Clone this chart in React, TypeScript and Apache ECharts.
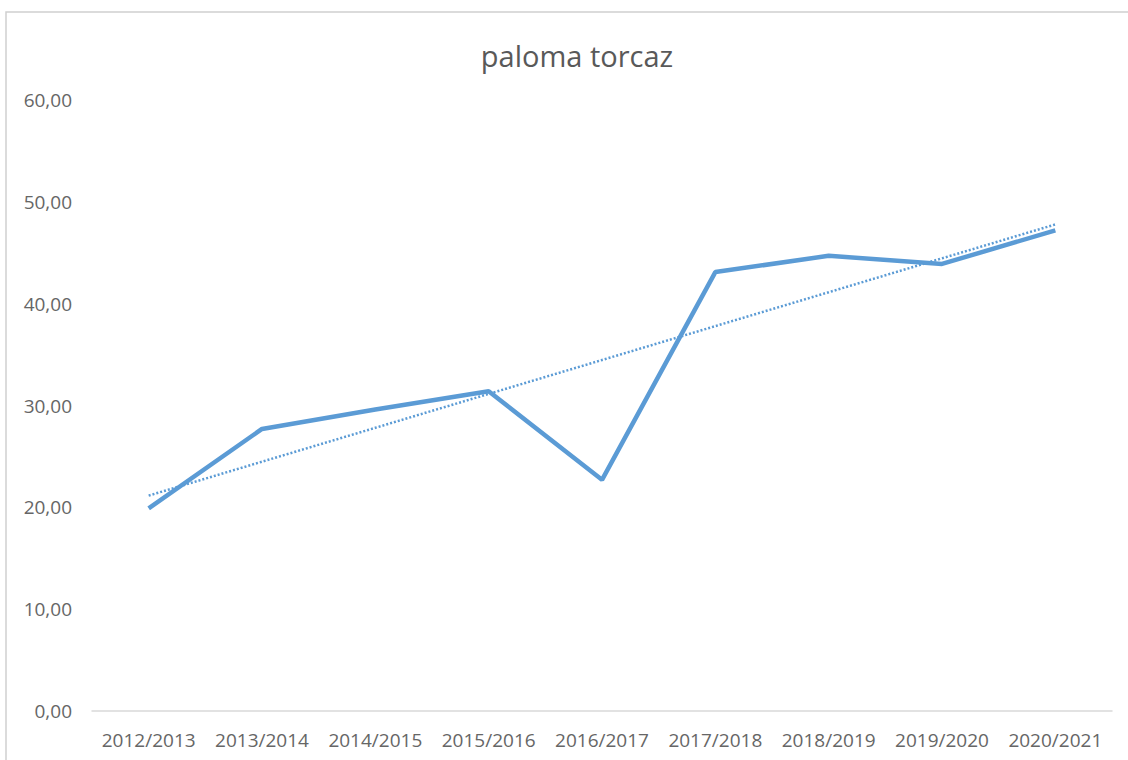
import React, { useEffect, useRef } from "react";
import * as echarts from "echarts";

const categories = [
  "2012/2013", "2013/2014", "2014/2015", "2015/2016", "2016/2017",
  "2017/2018", "2018/2019", "2019/2020", "2020/2021",
];
const values = [19.9, 27.7, 29.6, 31.4, 22.7, 43.1, 44.7, 43.9, 47.2];
const yTicks = { min: 0, max: 60, interval: 10 };
const title = "paloma torcaz";

function linearTrend(ys: number[]): number[] {
  const n = ys.length;
  const xs = ys.map((_, i) => i + 1);
  const mx = xs.reduce((a, b) => a + b, 0) / n;
  const my = ys.reduce((a, b) => a + b, 0) / n;
  let sxy = 0, sxx = 0;
  for (let i = 0; i < n; i++) {
    sxy += (xs[i] - mx) * (ys[i] - my);
    sxx += (xs[i] - mx) * (xs[i] - mx);
  }
  const slope = sxy / sxx;
  return xs.map((x) => +(my + slope * (x - mx)).toFixed(3));
}

export default function App() {
  const ref = useRef<HTMLDivElement>(null);
  useEffect(() => {
    if (!ref.current) return;
    const chart = echarts.init(ref.current, null, { renderer: "svg" });
    const font = "'Open Sans', sans-serif";
    chart.setOption({
      animation: false,
      backgroundColor: "#ffffff",
      title: {
        text: title,
        left: 572,
        top: 36,
        textAlign: "center",
        textStyle: { color: "#595959", fontSize: 29, fontWeight: "normal", fontFamily: font },
      },
      graphic: [
        {
          type: "rect",
          shape: { x: 6, y: 12, width: 1140, height: 780 },
          style: { fill: "none", stroke: "#d0d0d0", lineWidth: 1.5 },
          silent: true,
        },
      ],
      grid: { left: 92, right: 16, top: 100, bottom: 49 },
      xAxis: {
        type: "category",
        data: categories,
        boundaryGap: true,
        axisLine: { lineStyle: { color: "#d9d9d9", width: 1.5 } },
        axisTick: { show: false },
        axisLabel: {
          color: "#666666",
          fontSize: 19,
          fontFamily: font,
          margin: 19,
          interval: 0,
          hideOverlap: false,
        },
      },
      yAxis: {
        type: "value",
        min: yTicks.min,
        max: yTicks.max,
        interval: yTicks.interval,
        axisLine: { show: false },
        axisTick: { show: false },
        splitLine: { show: false },
        axisLabel: {
          color: "#666666",
          fontSize: 19,
          fontFamily: font,
          margin: 20,
          formatter: (v: number) => v.toFixed(2).replace(".", ","),
        },
      },
      series: [
        {
          type: "line",
          data: values,
          symbol: "none",
          lineStyle: { color: "#5B9BD5", width: 4.5 },
          z: 3,
        },
        {
          type: "line",
          data: linearTrend(values),
          symbol: "none",
          lineStyle: { color: "#5B9BD5", width: 2.5, type: [2, 2] },
          z: 2,
        },
      ],
    });
    return () => chart.dispose();
  }, []);
  return (
    <div
      ref={ref}
      style={{ width: 1128, height: 760, position: "absolute", left: 0, top: 0 }}
    />
  );
}
